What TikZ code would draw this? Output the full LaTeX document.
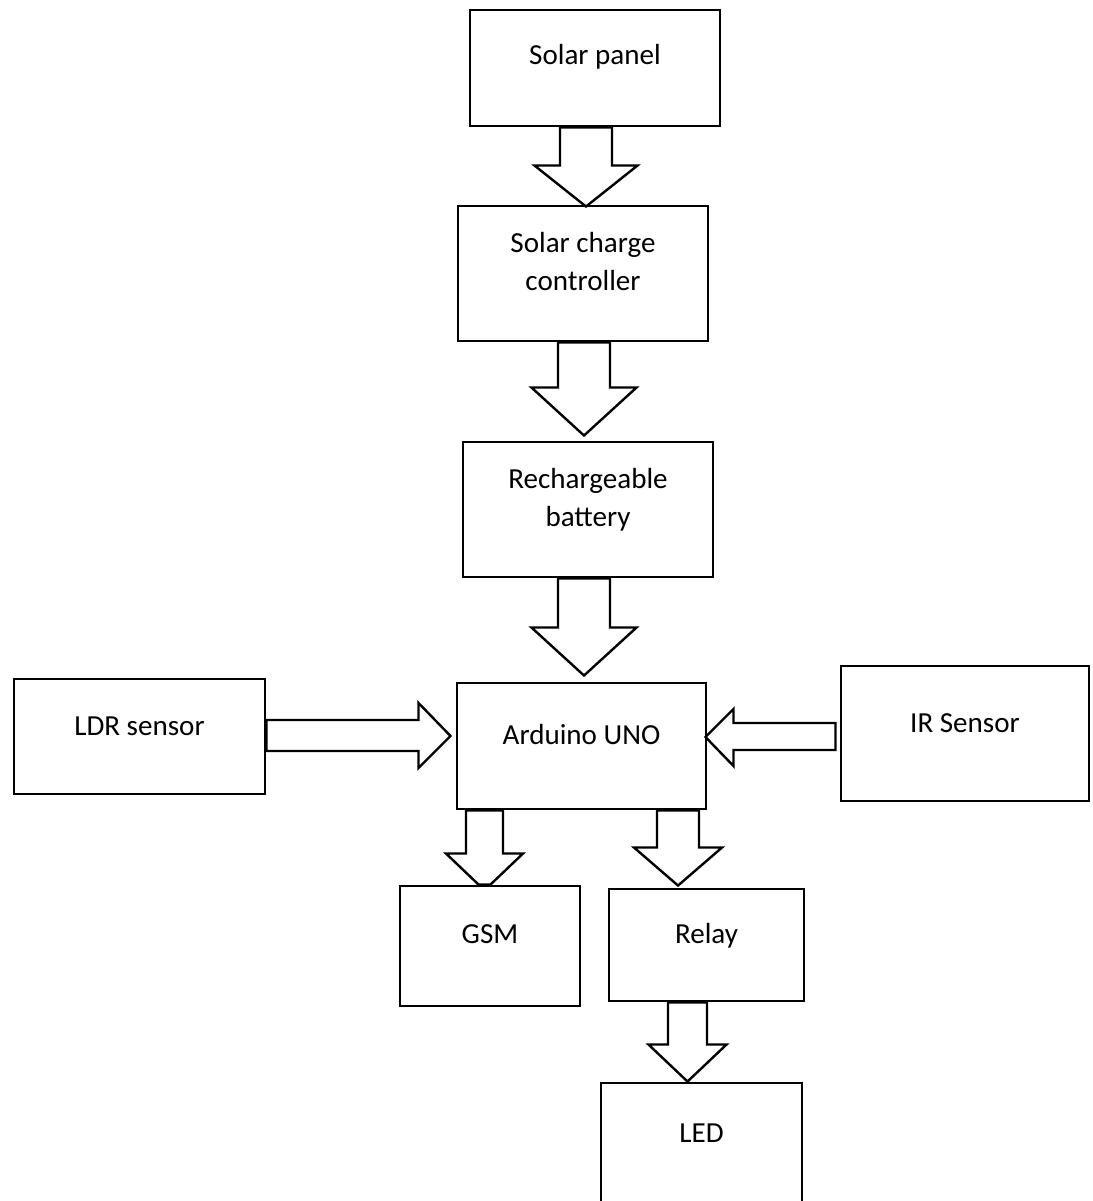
\documentclass[tikz,border=0pt]{standalone}
\usepackage{fontspec}
\setmainfont{Carlito}
\usetikzlibrary{calc}
\setlength{\tabcolsep}{0pt}
\tikzset{
  box/.style 2 args={draw, rectangle, line width=2.2pt, inner sep=0pt, fill=white,
    minimum width=#1*0.75pt, minimum height=#2*0.75pt},
  lbl/.style={inner sep=0pt, anchor=base,
    font=\fontsize{21.8}{28.5}\selectfont},
  barrow/.style={draw, line width=1.8pt, fill=white, line join=miter}
}
\newcommand\twolines[2]{\begin{tabular}[t]{c}#1\\#2\end{tabular}}
% down block arrow: src, dst, xc, shaft hw, head hw, head length, tip offset
\newcommand\dblk[7]{%
  \draw[barrow]
    ({#3-#4},0 |- #1.south) --
    ($({#3-#4},0 |- #2.north)+(0,{#7-#6})$) --
    ($({#3-#5},0 |- #2.north)+(0,{#7-#6})$) --
    ($(#3,0 |- #2.north)+(0,#7)$) --
    ($({#3+#5},0 |- #2.north)+(0,{#7-#6})$) --
    ($({#3+#4},0 |- #2.north)+(0,{#7-#6})$) --
    ({#3+#4},0 |- #1.south) -- cycle;}
\begin{document}
\begin{tikzpicture}[x=0.75pt, y=-0.75pt]
\useasboundingbox (0,0) rectangle (1092,1201);
\clip (0,0) rectangle (1092,1201);

% boxes
\node[box={250}{116}] (solar) at (595,68) {};
\node[box={250}{135}] (scc) at (583,273.5) {};
\node[box={250}{135}] (batt) at (588,509.5) {};
\node[box={249}{126}] (ard) at (581.5,746) {};
\node[box={251}{115}] (ldr) at (139.5,736.5) {};
\node[box={248}{135}] (ir) at (965,733.5) {};
\node[box={180}{120}] (gsm) at (490,946) {};
\node[box={195}{112}] (relay) at (706.5,945) {};
\node[box={201}{160}] (led) at (701.5,1163) {};

% labels
\node[lbl] (solar-t) at (595,65) {Solar panel};
\node[lbl] (scc-t) at (583,253) {\twolines{Solar charge}{controller}};
\node[lbl] (batt-t) at (588,488) {\twolines{Rechargeable}{battery}};
\node[lbl] (ard-t) at (581.5,744) {Arduino UNO};
\node[lbl] (ldr-t) at (139.5,735) {LDR sensor};
\node[lbl] (ir-t) at (965,732) {IR Sensor};
\node[lbl] (gsm-t) at (490,943) {GSM};
\node[lbl] (relay-t) at (706.5,943) {Relay};
\node[lbl] (led-t) at (701.5,1142) {LED};

% vertical block arrows
\dblk{solar}{scc}{586}{26}{51.5}{41}{2}
\dblk{scc}{batt}{584}{26}{52.5}{48}{-5}
\dblk{batt}{ard}{584}{26}{52.5}{48}{-6}
\dblk{ard}{relay}{678}{21}{44}{38}{-2}
\dblk{relay}{led}{687.5}{19.5}{39}{37}{0}

% GSM arrow (tip hidden by the box top)
\draw[barrow]
  (466,0 |- ard.south) --
  ($(466,0 |- gsm.north)+(0,-31)$) --
  ($(446,0 |- gsm.north)+(0,-31)$) --
  (478.5,0 |- gsm.north) --
  (490.5,0 |- gsm.north) --
  ($(523,0 |- gsm.north)+(0,-31)$) --
  ($(503,0 |- gsm.north)+(0,-31)$) --
  (503,0 |- ard.south) -- cycle;

% LDR -> Arduino
\draw[barrow]
  (ldr.east |- 0,720) --
  ($(ard.west |- 0,720)+(-37,0)$) --
  ($(ard.west |- 0,703)+(-37,0)$) --
  ($(ard.west |- 0,736)+(-5,0)$) --
  ($(ard.west |- 0,768)+(-37,0)$) --
  ($(ard.west |- 0,751)+(-37,0)$) --
  (ldr.east |- 0,751) -- cycle;

% IR -> Arduino
\draw[barrow]
  ($(ir.west |- 0,723)+(-4,0)$) --
  ($(ard.east |- 0,723)+(26,0)$) --
  ($(ard.east |- 0,709)+(26,0)$) --
  ($(ard.east |- 0,737)+(-2,0)$) --
  ($(ard.east |- 0,766)+(26,0)$) --
  ($(ard.east |- 0,750)+(26,0)$) --
  ($(ir.west |- 0,750)+(-4,0)$) -- cycle;
\end{tikzpicture}
\end{document}
